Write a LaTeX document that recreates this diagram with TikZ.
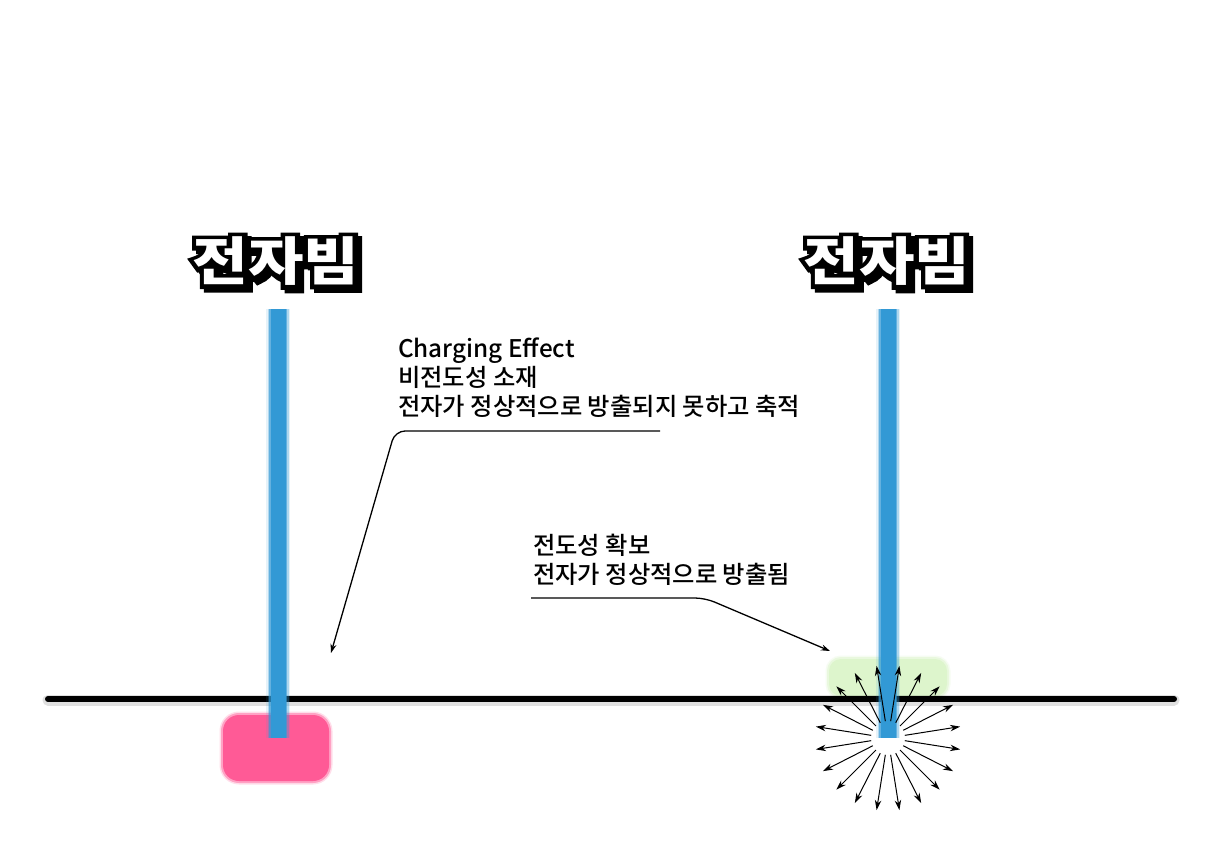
\documentclass[tikz,border=0pt]{standalone}
\usepackage{fontspec}
\usetikzlibrary{arrows.meta, calc}

\newfontfamily\krfont{Noto Sans CJK KR}
\IfFontExistsTF{Noto Sans CJK KR Medium}
  {\newfontfamily\krnote{Noto Sans CJK KR Medium}}
  {\newcommand\krnote{\krfont}}
\IfFontExistsTF{Noto Sans CJK KR Black}
  {\newfontfamily\krheavy{Noto Sans CJK KR Black}
   \newfontfamily\krfat{Noto Sans CJK KR Black}[FakeBold=16]}
  {\newcommand\krheavy{\krfont\bfseries}
   \newfontfamily\krfatfam{Noto Sans CJK KR}[BoldFeatures={FakeBold=16}]
   \newcommand\krfat{\krfatfam\bfseries}}

\definecolor{beamblue}{HTML}{3299D5}
\definecolor{chargepink}{HTML}{FF5A96}
\definecolor{glowgreen}{HTML}{DDF5CC}

\newcommand\beamtitle[1]{%
  \makebox[0pt][l]{\hspace{3.5pt}\raisebox{-3.5pt}{\krfat #1}}%
  \makebox[0pt][l]{\krfat #1}%
  {\color{white}#1}}

\begin{document}
\begin{tikzpicture}[
		x=1pt, y=-1pt,
		title/.style={font=\krheavy\fontsize{52}{52}\selectfont, inner sep=0pt, xscale=1.16},
		note/.style={font=\krnote\fontsize{24.3}{29}\selectfont, align=left, inner sep=0pt, anchor=north west},
		leader/.style={-{Stealth[length=9pt, width=6pt]}, line width=1.3pt, rounded corners=10pt},
		spark/.style={-{Stealth[length=10pt, width=6.5pt]}, line width=1pt}
		]
		\path[use as bounding box, fill=white] (0,0) rectangle (1224,843);
		
		% ---- Titles ----
		\node[title] (titleL) at (276,263) {\beamtitle{전자빔}};
		\node[title] (titleR) at (887,263) {\beamtitle{전자빔}};
		
		% ---- Glows under the beams ----
		\foreach \w/\o in {7/0.2, 4/0.45}
		\draw[chargepink, line width=\w pt, opacity=\o, rounded corners=16pt] (223,715) rectangle (329,781);
		\fill[chargepink, rounded corners=16pt] (223,715) rectangle (329,781);
		\foreach \w/\o in {7/0.25, 4/0.5}
		\draw[glowgreen, line width=\w pt, opacity=\o, rounded corners=12pt] (829,659) rectangle (947,696);
		\fill[glowgreen, rounded corners=12pt] (829,659) rectangle (947,696);
		
		% ---- Sample surface ----
		\draw[black, opacity=0.12, line width=11pt, line cap=round] (48,700) -- (1174,700);
		\draw[black, line width=6pt, line cap=round] (48,699) -- (1174,699);
		
		% ---- Beams ----
		\coordinate (beamLtop) at (278,309);
		\coordinate (beamLend) at (278,738);
		\coordinate (beamRtop) at (888,309);
		\coordinate (beamRend) at (888,738);
		\fill[white, opacity=0.9] (beamRend) circle (13);
		\foreach \w/\o in {24/0.12, 21/0.3, 18/0.6, 15/1}{
			\draw[beamblue, line width=\w pt, opacity=\o] (beamLtop) -- (beamLend);
			\draw[beamblue, line width=\w pt, opacity=\o] (beamRtop) -- (beamRend);
		}
		
		% ---- Emitted electrons ----
		\foreach \a in {0,...,19}
		\draw[spark] ($(beamRend)+(9+18*\a:17)$) -- ($(beamRend)+(9+18*\a:73)$);
		
		% ---- Notes ----
		\node[note] (charge) at (398,338) {Charging Effect\\비전도성 소재\\전자가 정상적으로 방출되지 못하고 축적};
		\node[note] (conduct) at (533,534) {전도성 확보\\전자가 정상적으로 방출됨};
		
		% ---- Leaders ----
		\coordinate (chargestart) at (660,431);
		\coordinate (chargebend)  at (395,431);
		\coordinate (chargetip)   at (331,653);
		\draw[leader] (chargestart) -- (chargebend) -- (chargetip);
		
		\coordinate (conductstart) at (531,598);
		\coordinate (conductbend)  at (705,598);
		\coordinate (conducttip)   at (830,651);
		\draw[leader] (conductstart) -- (conductbend) -- (conducttip);
	\end{tikzpicture}
\end{document}
